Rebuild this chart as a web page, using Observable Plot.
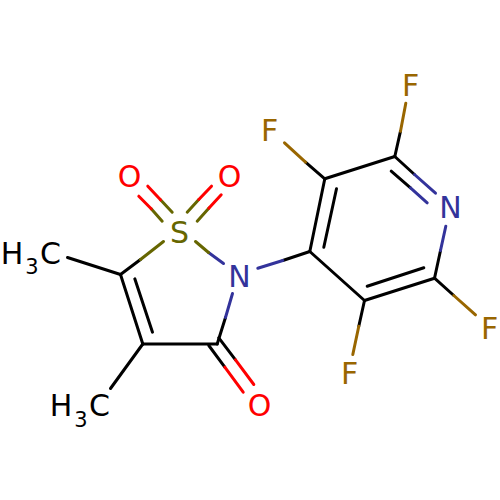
<!DOCTYPE html>
<html>
<head>
<meta charset="utf-8">
<script src="https://cdn.jsdelivr.net/npm/d3@7"></script>
<script src="https://cdn.jsdelivr.net/npm/@observablehq/plot@0.6"></script>
<style>html,body{margin:0;padding:0;background:#fff}svg{display:block}</style>
</head>
<body>
<div id="chart"></div>
<script>
// Structure drawing coordinates (x1, y1, x2, y2, element of the half-bond)
const carbonBonds = [
  [120,274,142.3,343.5],[134.3,278.3,152,331.7],[142.3,343.5,216.7,343.5],
  [120,274,67,257],[142.3,343.5,110,388],
  [324.3,178.3,394.3,156],[324.3,178.3,309.3,251],[336,188.3,323.3,246.7],
  [309.3,251,364,300],[364,300,434,277.7],[366.7,285.7,423.3,267.3]
];
const ringHalves = [
  [216.7,343.5,225,317,"C"],[225,317,232,293,"N"],
  [218.3,337.3,235,359.3,"C"],[235,359.3,253.3,384,"O"],
  [208.3,345,224.3,366.7,"C"],[224.3,366.7,242.7,391.7,"O"],
  [120,274,140,259,"C"],[140,259,163,241,"S"],
  [223,263,208,252,"N"],[208,252,195,241,"S"],
  [171.7,211.7,160,199.3,"S"],[160,199.3,147.3,185.7,"O"],
  [161.7,220.7,150.7,208.3,"S"],[150.7,208.3,138.3,195.7,"O"],
  [186.7,211.7,198.3,199,"S"],[198.3,199,211,185.7,"O"],
  [196.7,220.7,208.3,207.7,"S"],[208.3,207.7,220.7,194.3,"O"]
];
const pyridineHalves = [
  [394.3,156,400,130.7,"C"],[400,130.7,405.3,102.7,"F"],
  [324.3,178.3,305,161.7,"C"],[305,161.7,284,142.3,"F"],
  [364,300,358.3,325.7,"C"],[358.3,325.7,352.3,354,"F"],
  [434,277.7,453.3,295,"C"],[453.3,295,475,314.3,"F"],
  [394.3,156,414,174,"C"],[414,174,435,192.7,"N"],
  [390.7,170.7,410,187.3,"C"],[410,187.3,426.7,202.3,"N"],
  [434,277.7,440,250,"C"],[440,250,445.3,225.7,"N"],
  [309.3,251,282.3,260,"C"],[282.3,260,257.3,267.7,"N"]
];
const atomLabels = [
  ["S",179,232.5],["O",129,177],["O",229,177],["N",239,277],["O",259,406],
  ["F",410,86],["F",269,131],["N",450,207.5],["F",489,329],["F",349,374]
];
const methylLabels = [["H",11.5,254],["C",50,254],["H",60.5,406],["C",99,406]];
const subscriptLabels = [["3",31.5,266.5],["3",80.5,420]];
const elementColours = {C:"#000000",N:"#33339b",O:"#ff0000",S:"#666600",F:"#996600"};

const segments = [
  ...carbonBonds.map(b => [...b,"C"]),
  ...ringHalves,
  ...pyridineHalves
].map(([x1,y1,x2,y2,el]) => ({x1,y1,x2,y2,colour:elementColours[el]}));
const toRow = ([t,x,y]) => ({t,x,y});
const colourOf = d => elementColours[d.t] ?? "#000000";

const plot = Plot.plot({
  width: 500, height: 500, margin: 0,
  x: {domain:[0,500], range:[0,500], axis:null},
  y: {domain:[0,500], range:[0,500], axis:null},
  style: {background:"#fff"},
  marks: [
    Plot.link(segments, {x1:"x1",y1:"y1",x2:"x2",y2:"y2",stroke:d=>d.colour,strokeWidth:3,strokeLinecap:"round"}),
    Plot.text(atomLabels.map(toRow), {x:"x",y:"y",text:"t",fill:colourOf,fontSize:30,fontFamily:"DejaVu Sans",textAnchor:"middle",lineAnchor:"middle"}),
    Plot.text(methylLabels.map(toRow), {x:"x",y:"y",text:"t",fill:"#000",fontSize:30,fontFamily:"DejaVu Sans",textAnchor:"middle",lineAnchor:"middle"}),
    Plot.text(subscriptLabels.map(toRow), {x:"x",y:"y",text:"t",fill:"#000",fontSize:21,fontFamily:"DejaVu Sans",textAnchor:"middle",lineAnchor:"middle"})
  ]
});
document.getElementById("chart").append(plot);
</script>
</body>
</html>
